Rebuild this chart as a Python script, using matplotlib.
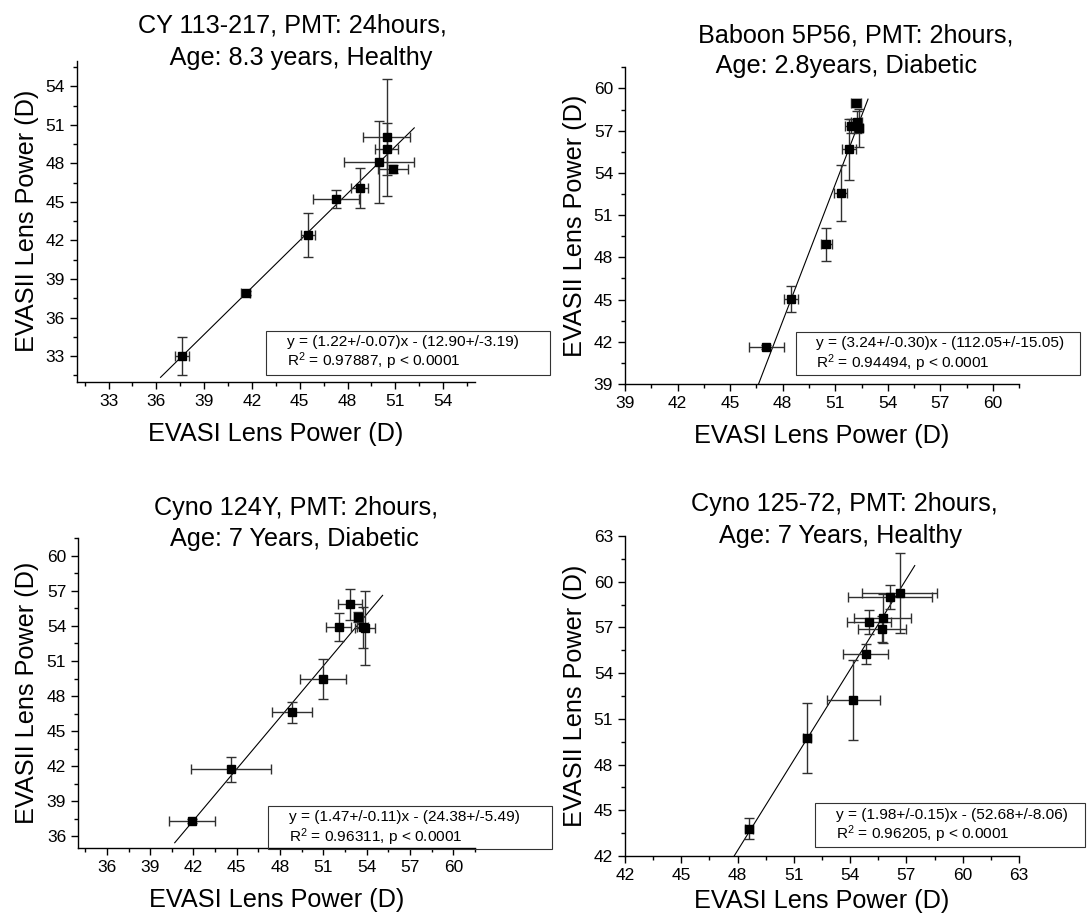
import matplotlib
matplotlib.use("Agg")
import matplotlib.pyplot as plt
from matplotlib.patches import Rectangle
from matplotlib.ticker import MultipleLocator
import numpy as np

plt.rcParams['font.family'] = ['Liberation Sans', 'DejaVu Sans']
plt.rcParams['mathtext.fontset'] = 'custom'
plt.rcParams['mathtext.rm'] = 'Liberation Sans'
plt.rcParams['mathtext.it'] = 'Liberation Sans:italic'

W, H = 1089, 922

# ---- Data: EVASI (x) vs EVASII (y) lens power, mean +/- SD ----
titles = [
    ("CY 113-217, PMT: 24hours,", " Age: 8.3 years, Healthy"),
    ("Baboon 5P56, PMT: 2hours,", " Age: 2.8years, Diabetic"),
    ("Cyno 124Y, PMT: 2hours,", "Age: 7 Years, Diabetic"),
    ("Cyno 125-72, PMT: 2hours,", "Age: 7 Years, Healthy"),
]

cy_x = [37.59, 41.60, 45.49, 47.25, 48.77, 49.95, 50.45, 50.45, 50.86]
cy_y = [33.00, 37.88, 42.43, 45.23, 46.11, 48.13, 50.03, 49.12, 47.54]
cy_xerr = [0.45, 0.30, 0.44, 1.44, 0.54, 2.20, 1.50, 0.73, 0.93]
cy_yerr = [1.50, 0.15, 1.72, 0.70, 1.56, 3.20, 4.55, 2.00, 0.30]

bab_x = [47.07, 48.47, 50.49, 51.31, 51.80, 51.88, 52.17, 52.22, 52.34]
bab_y = [41.65, 45.04, 48.93, 52.55, 55.68, 57.36, 58.95, 57.60, 57.17]
bab_xerr = [0.98, 0.38, 0.33, 0.37, 0.41, 0.30, 0.30, 0.30, 0.25]
bab_yerr = [0.15, 0.95, 1.18, 2.00, 2.18, 0.50, 0.30, 0.80, 1.35]

c124_x = [41.90, 44.60, 48.84, 50.94, 52.05, 52.84, 53.41, 53.71, 53.90]
c124_y = [37.30, 41.74, 46.60, 49.43, 53.90, 55.84, 54.78, 53.90, 53.82]
c124_xerr = [1.60, 2.78, 1.37, 1.59, 0.84, 0.85, 0.27, 0.40, 0.70]
c124_yerr = [0.20, 1.06, 0.90, 1.70, 1.20, 1.30, 0.45, 1.75, 3.20]

c125_x = [48.60, 51.70, 54.17, 54.83, 55.00, 55.70, 55.73, 56.13, 56.64]
c125_y = [43.80, 49.75, 52.21, 55.23, 57.37, 56.92, 57.60, 59.00, 59.26]
c125_xerr = [0.20, 0.20, 1.40, 1.20, 1.18, 1.30, 1.53, 2.22, 1.99]
c125_yerr = [0.70, 2.30, 2.63, 0.65, 0.77, 0.85, 1.60, 0.78, 2.60]

# Linear fits: y = slope*x - intercept
slopes = [1.22, 3.24, 1.47, 1.98]
slope_err = [0.07, 0.30, 0.11, 0.15]
intercepts = [12.90, 112.05, 24.38, 52.68]
intercept_err = [3.19, 15.05, 5.49, 8.06]
r_squared = ["0.97887", "0.94494", "0.96311", "0.96205"]
p_text = "p < 0.0001"

x_limits = [(31, 56), (39, 61.5), (34, 61.5), (42, 63)]
y_limits = [(31, 56), (39, 61.5), (35, 61.5), (42, 63)]

series = [
    (cy_x, cy_y, cy_xerr, cy_yerr),
    (bab_x, bab_y, bab_xerr, bab_yerr),
    (c124_x, c124_y, c124_xerr, c124_yerr),
    (c125_x, c125_y, c125_xerr, c125_yerr),
]

# ---- Layout (pixel boxes: left, top, right, bottom) ----
axes_px = [(76.7, 60.7, 475, 381.7), (625, 67.3, 1019.3, 384),
           (78, 538.3, 475, 848), (625, 536, 1019, 856)]
title_px = [((292, 33), (298.5, 64.7)), ((856, 42), (843.5, 73.5)),
            ((296.5, 514.7), (294, 546.3)), ((844, 511.3), (840.5, 543))]
box_px = [(265.7, 330.7, 550, 375), (795.5, 331.7, 1080, 375),
          (268, 805.7, 552, 849), (815, 803.3, 1085, 847)]
ylabel_x = [27, 575, 27, 575]
xlabel_y = [434.2, 436.5, 900, 901]

FS = 18.2
TICK_FS = 12.5
EQ_FS = 11.1

fig = plt.figure(figsize=(W / 100, H / 100), dpi=100)


def fx(px):
    return px / W


def fy(py):
    return 1 - py / H


for i in range(4):
    l, t, r, b = axes_px[i]
    ax = fig.add_axes([fx(l), fy(b), (r - l) / W, (b - t) / H])
    xs, ys, xe, ye = series[i]

    ax.errorbar(xs, ys, xerr=xe, yerr=ye, fmt='s', color='black', ms=5.3,
                ecolor='#303030', elinewidth=1.0, capsize=3.5, capthick=1.0,
                zorder=3)

    # fit line spans the data range padded by 10% on each side
    xmin, xmax = min(xs), max(xs)
    pad = 0.1 * (xmax - xmin)
    fit_x = np.array([xmin - pad, xmax + pad])
    ax.plot(fit_x, slopes[i] * fit_x - intercepts[i], color='black', lw=0.8,
            zorder=2)

    ax.set_xlim(*x_limits[i])
    ax.set_ylim(*y_limits[i])
    for side in ('top', 'right'):
        ax.spines[side].set_visible(False)
    for side in ('left', 'bottom'):
        ax.spines[side].set_linewidth(1.0)
    for axis in (ax.xaxis, ax.yaxis):
        axis.set_major_locator(MultipleLocator(3))
        axis.set_minor_locator(MultipleLocator(1.5))
    ax.tick_params(which='major', direction='out', length=5, width=1.0,
                   labelsize=TICK_FS, pad=3.5)
    ax.tick_params(which='minor', direction='out', length=3, width=1.0)

    ax.set_xlabel('EVASI Lens Power (D)', fontsize=FS, va='center')
    ax.xaxis.set_label_coords(0.5, -(xlabel_y[i] - b) / (b - t))
    ax.set_ylabel('EVASII Lens Power (D)', fontsize=FS, va='center')
    ax.yaxis.set_label_coords((ylabel_x[i] - l) / (r - l), 0.5)

    # two-line title
    for (cx, base), line in zip(title_px[i], titles[i]):
        fig.text(fx(cx), fy(base), line, fontsize=FS, ha='center',
                 va='baseline')

    # fit statistics box
    bl, bt, br, bb = box_px[i]
    fig.add_artist(Rectangle((fx(bl), fy(bb)), (br - bl) / W, (bb - bt) / H,
                             transform=fig.transFigure, fill=False,
                             lw=0.8, ec='#333333'))
    eq = "y = ({:.2f}+/-{:.2f})x - ({:.2f}+/-{:.2f})".format(
        slopes[i], slope_err[i], intercepts[i], intercept_err[i])
    stat = "R$^2$ = {}, {}".format(r_squared[i], p_text)
    fig.text(fx(bl + 21), fy(bt + 11.5), eq, fontsize=EQ_FS, ha='left',
             va='center')
    fig.text(fx(bl + 21), fy(bt + 31), stat, fontsize=EQ_FS, ha='left',
             va='center')

fig.savefig('out.png', dpi=100)
